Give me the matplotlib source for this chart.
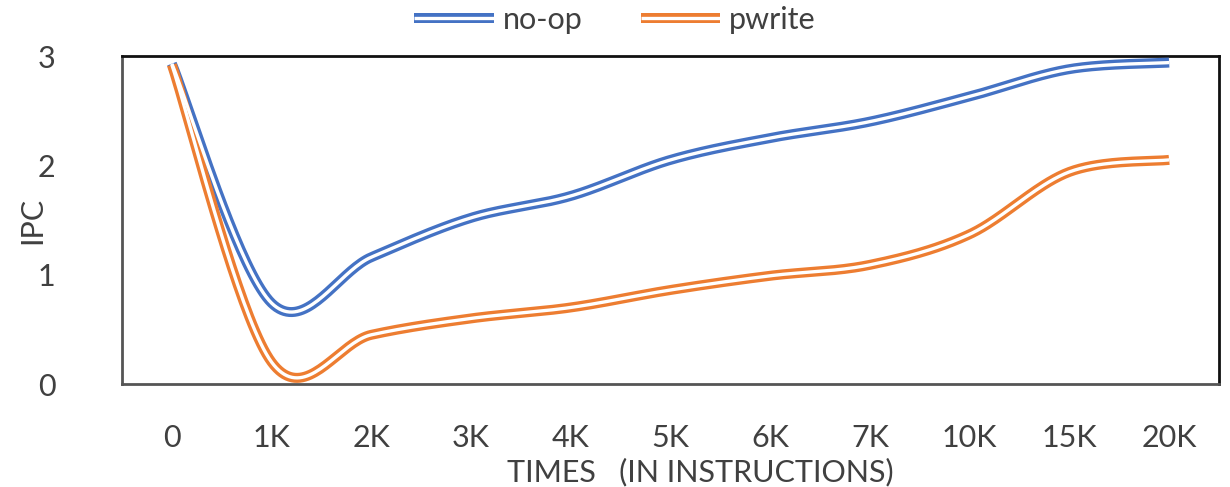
import numpy as np
import matplotlib
matplotlib.use("Agg")
import matplotlib.pyplot as plt
from matplotlib.lines import Line2D
from matplotlib.legend_handler import HandlerTuple

categories = ["0", "1K", "2K", "3K", "4K", "5K", "6K", "7K", "10K", "15K", "20K"]
noop = [2.93, 0.74, 1.16, 1.52, 1.72, 2.05, 2.25, 2.40, 2.63, 2.88, 2.94]
pwrite = [2.92, 0.20, 0.45, 0.60, 0.70, 0.86, 0.99, 1.09, 1.37, 1.94, 2.05]

BLUE = "#4472C4"
ORANGE = "#ED7D31"
TXT = "#404040"

plt.rcParams['font.family'] = ['Lato', 'DejaVu Sans']


def smooth(xs, ys, n=40):
    """Excel-style smoothed line: cubic Bezier with Catmull-Rom control points."""
    P = np.column_stack([xs, ys]).astype(float)
    m = len(P)
    out = []
    for i in range(m - 1):
        p0 = P[i - 1] if i > 0 else P[i]
        p1 = P[i]
        p2 = P[i + 1]
        p3 = P[i + 2] if i + 2 < m else P[i + 1]
        b1 = p1 + (p2 - p0) / 6.0
        b2 = p2 - (p3 - p1) / 6.0
        t = np.linspace(0, 1, n)[:, None]
        seg = ((1 - t) ** 3) * p1 + 3 * ((1 - t) ** 2) * t * b1 + 3 * (1 - t) * t ** 2 * b2 + t ** 3 * p2
        out.append(seg if i == 0 else seg[1:])
    pts = np.vstack(out)
    return pts[:, 0], pts[:, 1]


fig = plt.figure(figsize=(12.3, 4.87), dpi=100)
ax = fig.add_axes([122 / 1230, 1 - 384 / 487, (1219 - 122) / 1230, (384 - 56) / 487])

x = np.arange(len(categories))
OUTER = 7.2
INNER = 2.4
handles = []
for ys, col, name in [(noop, BLUE, "no-op"), (pwrite, ORANGE, "pwrite")]:
    sx, sy = smooth(x, ys)
    ax.plot(sx, sy, color=col, lw=OUTER, solid_capstyle="butt", zorder=3)
    ax.plot(sx, sy, color="white", lw=INNER, solid_capstyle="butt", zorder=4)
    h = (Line2D([], [], color=col, lw=OUTER, solid_capstyle="butt"),
         Line2D([], [], color="white", lw=INNER, solid_capstyle="butt"))
    handles.append((h, name))

ax.set_xlim(-0.5, len(categories) - 0.5)
ax.set_ylim(0, 3)
ax.set_yticks([0, 1, 2, 3])
ax.set_xticks(x)
ax.set_xticklabels(categories)
ax.tick_params(axis="both", length=0, labelsize=22, colors=TXT)
ax.tick_params(axis="y", pad=48)
ax.tick_params(axis="x", pad=29)
for s in ["top", "right"]:
    ax.spines[s].set_color("#111111")
    ax.spines[s].set_linewidth(2.0)
for s in ["left", "bottom"]:
    ax.spines[s].set_color("#555555")
    ax.spines[s].set_linewidth(2.0)

ax.set_ylabel("IPC", fontsize=22, color=TXT)
ax.yaxis.set_label_coords(-76 / 1097, 0.5)
ax.set_xlabel("TIMES   (IN INSTRUCTIONS)", fontsize=22, color=TXT, labelpad=0)
ax.xaxis.set_label_coords(0.5 + 30 / 1097, -0.225)

fig.legend([h for h, _ in handles], [n for _, n in handles],
           handler_map={tuple: HandlerTuple(ndivide=1, pad=0)},
           loc="upper center", bbox_to_anchor=(0.5, 1.045), ncol=2, frameon=False,
           fontsize=22, handlelength=2.6, columnspacing=1.9, handletextpad=0.3,
           labelcolor=TXT)

fig.savefig("out.png", dpi=100)
